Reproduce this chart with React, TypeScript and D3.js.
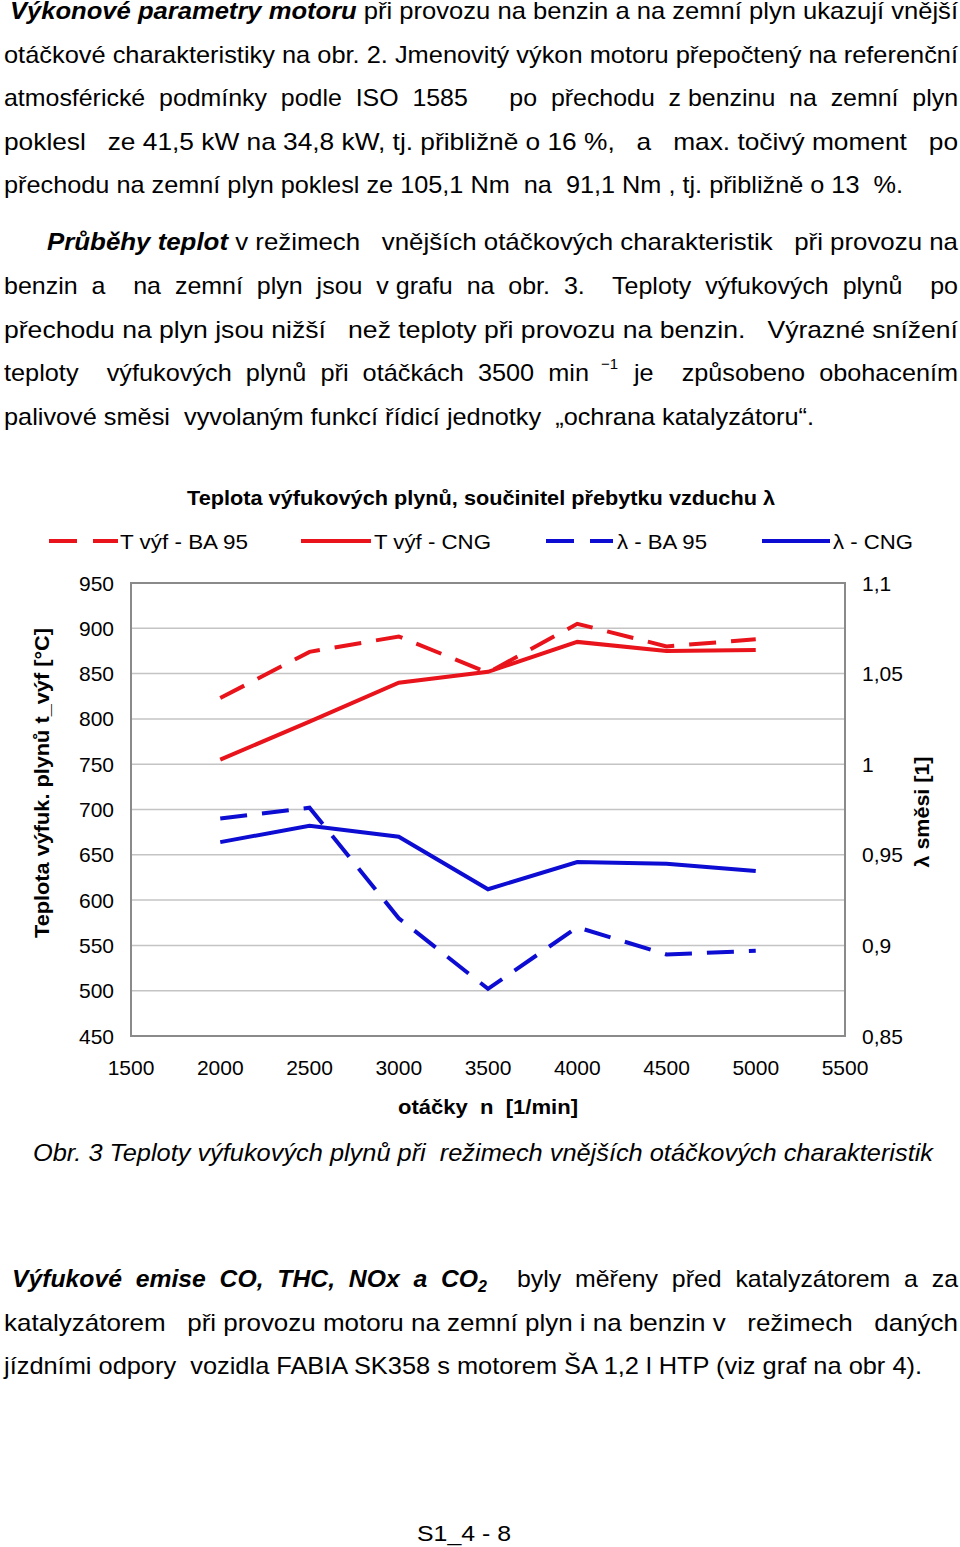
import React from "react";
import * as d3 from "d3";

const rpm = [2000, 2500, 3000, 3500, 4000, 4500, 5000];
const tBA95 = [823, 874, 891, 851, 905, 880, 888];
const tCNG = [755, 797, 840, 852, 885, 875, 876];
const lambdaBA95 = [0.97, 0.976, 0.915, 0.876, 0.91, 0.895, 0.897];
const lambdaCNG = [0.957, 0.966, 0.96, 0.931, 0.946, 0.945, 0.941];
const rpmTicks = [1500, 2000, 2500, 3000, 3500, 4000, 4500, 5000, 5500];
const tempTicks = [450, 500, 550, 600, 650, 700, 750, 800, 850, 900, 950];
const lambdaTicks = [0.85, 0.9, 0.95, 1.0, 1.05, 1.1];
const legendItems = [
  { label: "T výf - BA 95", color: "red", dashed: true },
  { label: "T výf - CNG", color: "red", dashed: false },
  { label: "λ - BA 95", color: "blue", dashed: true },
  { label: "λ - CNG", color: "blue", dashed: false },
];

const RED = "#e8131b";
const BLUE = "#0c0cd2";
const NARROW = "'Liberation Sans Narrow', 'Liberation Sans', Arial, sans-serif";
const SANS = "'Liberation Sans', Arial, sans-serif";

type Seg = { t: string; b?: boolean };
const Line = ({ x, y, w, segs, size = 24, italic = false }: { x: number; y: number; w?: number; segs: Seg[]; size?: number; italic?: boolean }) => (
  <text
    x={x}
    y={y}
    fontFamily={NARROW}
    fontSize={size}
    fill="#000"
    fontStyle={italic ? "italic" : "normal"}
    textLength={w}
    lengthAdjust={w ? "spacingAndGlyphs" : undefined}
    style={{ whiteSpace: "pre" }}
  >
    {segs.map((s, i) => (
      <tspan key={i} fontWeight={s.b ? "bold" : "normal"} fontStyle={s.b ? "italic" : undefined}>
        {s.t}
      </tspan>
    ))}
  </text>
);

export default function App() {
  const left = 131, right = 845, top = 583, bottom = 1036;
  const x = d3.scaleLinear().domain([1500, 5500]).range([left, right]);
  const yT = d3.scaleLinear().domain([450, 950]).range([bottom, top]);
  const yL = d3.scaleLinear().domain([0.85, 1.1]).range([bottom, top]);
  const lineT = d3.line<number>().x((_, i) => x(rpm[i])).y((d) => yT(d));
  const lineL = d3.line<number>().x((_, i) => x(rpm[i])).y((d) => yL(d));
  const fmtL = (v: number) => d3.format("~g")(+v.toFixed(2)).replace(".", ",");

  const legendPos = [
    { x0: 49, x1: 118, tx: 120, tw: 128 },
    { x0: 301, x1: 371, tx: 374, tw: 117 },
    { x0: 546, x1: 613, tx: 617, tw: 90 },
    { x0: 762, x1: 830, tx: 833, tw: 80 },
  ];

  return (
    <svg width={960} height={1547} style={{ position: "absolute", left: 0, top: 0, background: "#fff" }}>
      <rect width={960} height={1547} fill="#fff" />
      {/* Paragraph 1 */}
      <Line x={10} y={19} w={948} segs={[{ t: "Výkonové parametry motoru", b: true }, { t: " při provozu na benzin a na zemní plyn ukazují vnější" }]} />
      <Line x={4} y={63} w={954} segs={[{ t: "otáčkové charakteristiky na obr. 2. Jmenovitý výkon motoru přepočtený na referenční" }]} />
      <Line x={4} y={106} w={954} segs={[{ t: "atmosférické  podmínky  podle  ISO  1585      po  přechodu  z benzinu  na  zemní  plyn" }]} />
      <Line x={4} y={150} w={954} segs={[{ t: "poklesl   ze 41,5 kW na 34,8 kW, tj. přibližně o 16 %,   a   max. točivý moment   po" }]} />
      <Line x={4} y={193} w={899} segs={[{ t: "přechodu na zemní plyn poklesl ze 105,1 Nm  na  91,1 Nm , tj. přibližně o 13  %." }]} />
      {/* Paragraph 2 */}
      <Line x={47} y={250} w={911} segs={[{ t: "Průběhy teplot", b: true }, { t: " v režimech   vnějších otáčkových charakteristik   při provozu na" }]} />
      <Line x={4} y={294} w={954} segs={[{ t: "benzin  a    na  zemní  plyn  jsou  v grafu  na  obr.  3.    Teploty  výfukových  plynů    po" }]} />
      <Line x={4} y={338} w={954} segs={[{ t: "přechodu na plyn jsou nižší   než teploty při provozu na benzin.   Výrazné snížení" }]} />
      <Line x={4} y={381} w={585} segs={[{ t: "teploty    výfukových  plynů  při  otáčkách  3500  min" }]} />
      <text x={601} y={369} fontFamily={NARROW} fontSize={15} fill="#000">−1</text>
      <Line x={634} y={381} w={324} segs={[{ t: "je    způsobeno  obohacením" }]} />
      <Line x={4} y={425} w={810} segs={[{ t: "palivové směsi  vyvolaným funkcí řídicí jednotky  „ochrana katalyzátoru“." }]} />

      {/* Chart title */}
      <text x={481} y={505} textAnchor="middle" fontFamily={SANS} fontWeight="bold" fontSize={20} textLength={588} lengthAdjust="spacingAndGlyphs">
        Teplota výfukových plynů, součinitel přebytku vzduchu λ
      </text>

      {/* Legend */}
      {legendItems.map((it, i) => {
        const p = legendPos[i];
        const c = it.color === "red" ? RED : BLUE;
        return (
          <g key={i}>
            <line x1={p.x0} x2={p.x1} y1={541} y2={541} stroke={c} strokeWidth={4} strokeDasharray={it.dashed ? "28,16" : undefined} />
            <text x={p.tx} y={549} fontFamily={SANS} fontSize={21} textLength={p.tw} lengthAdjust="spacingAndGlyphs">
              {it.label}
            </text>
          </g>
        );
      })}

      {/* Gridlines */}
      {tempTicks.slice(1, -1).map((t) => (
        <line key={t} x1={left} x2={right} y1={yT(t)} y2={yT(t)} stroke="#c4c4c4" strokeWidth={1.5} />
      ))}
      <rect x={left} y={top} width={right - left} height={bottom - top} fill="none" stroke="#8a8a8a" strokeWidth={2} />

      {/* Left tick labels */}
      {tempTicks.map((t) => (
        <text key={t} x={114} y={yT(t) + 7.5} textAnchor="end" fontFamily={SANS} fontSize={21} fill="#000">
          {t}
        </text>
      ))}
      {/* Right tick labels */}
      {lambdaTicks.map((t) => (
        <text key={t} x={862} y={yL(t) + 7.5} fontFamily={SANS} fontSize={21} fill="#000">
          {fmtL(t)}
        </text>
      ))}
      {/* X tick labels */}
      {rpmTicks.map((t) => (
        <text key={t} x={x(t)} y={1075} textAnchor="middle" fontFamily={SANS} fontSize={21} fill="#000">
          {t}
        </text>
      ))}

      {/* Axis titles */}
      <text x={488} y={1114} textAnchor="middle" fontFamily={SANS} fontWeight="bold" fontSize={21} textLength={180} lengthAdjust="spacingAndGlyphs" style={{ whiteSpace: "pre" }}>
        {"otáčky  n  [1/min]"}
      </text>
      <text transform="translate(49,783) rotate(-90)" textAnchor="middle" fontFamily={SANS} fontWeight="bold" fontSize={21} textLength={310} lengthAdjust="spacingAndGlyphs">
        Teplota výfuk. plynů t_výf [°C]
      </text>
      <text transform="translate(929,812) rotate(-90)" textAnchor="middle" fontFamily={SANS} fontWeight="bold" fontSize={21} textLength={111} lengthAdjust="spacingAndGlyphs">
        λ směsi [1]
      </text>

      {/* Series */}
      <path d={lineT(tBA95) || ""} fill="none" stroke={RED} strokeWidth={4} strokeDasharray="27,15" />
      <path d={lineT(tCNG) || ""} fill="none" stroke={RED} strokeWidth={4} />
      <path d={lineL(lambdaBA95) || ""} fill="none" stroke={BLUE} strokeWidth={4} strokeDasharray="27,15" />
      <path d={lineL(lambdaCNG) || ""} fill="none" stroke={BLUE} strokeWidth={4} />

      {/* Caption */}
      <Line x={33} y={1161} w={900} italic segs={[{ t: "Obr. 3 Teploty výfukových plynů při  režimech vnějších otáčkových charakteristik" }]} />

      {/* Paragraph 3 */}
      <Line x={12} y={1287} w={466} segs={[{ t: "Výfukové  emise  CO,  THC,  NOx  a  CO", b: true }]} />
      <text x={478} y={1292} fontFamily={NARROW} fontWeight="bold" fontStyle="italic" fontSize={16}>2</text>
      <Line x={517} y={1287} w={441} segs={[{ t: "byly  měřeny  před  katalyzátorem  a  za" }]} />
      <Line x={4} y={1331} w={954} segs={[{ t: "katalyzátorem   při provozu motoru na zemní plyn i na benzin v   režimech   daných" }]} />
      <Line x={4} y={1374} w={918} segs={[{ t: "jízdními odpory  vozidla FABIA SK358 s motorem ŠA 1,2 l HTP (viz graf na obr 4)." }]} />

      {/* Footer */}
      <text x={464} y={1541} textAnchor="middle" fontFamily={SANS} fontSize={22} textLength={94} lengthAdjust="spacingAndGlyphs">
        S1_4 - 8
      </text>
    </svg>
  );
}
